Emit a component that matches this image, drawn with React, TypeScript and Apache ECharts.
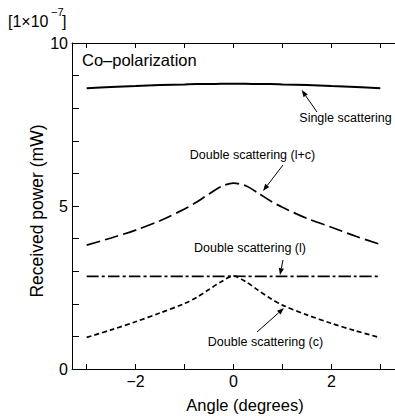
import React, { useEffect, useRef } from "react";
import * as echarts from "echarts";

const FONT = "'Liberation Sans', Arial, sans-serif";

const angles = [-3, -2.5, -2, -1.5, -1, -0.75, -0.5, -0.25, 0, 0.25, 0.5, 0.75, 1, 1.5, 2, 2.5, 3];
const singleScattering = [8.61, 8.65, 8.68, 8.71, 8.73, 8.74, 8.74, 8.75, 8.75, 8.75, 8.74, 8.74, 8.73, 8.71, 8.68, 8.65, 8.61];
const doubleLC = [3.8, 4.02, 4.26, 4.55, 4.91, 5.12, 5.37, 5.6, 5.7, 5.62, 5.4, 5.16, 4.96, 4.62, 4.35, 4.07, 3.82];
const doubleL = [2.84, 2.84, 2.84, 2.84, 2.84, 2.84, 2.84, 2.84, 2.85, 2.84, 2.84, 2.84, 2.84, 2.84, 2.84, 2.84, 2.84];
const doubleC = [0.97, 1.2, 1.45, 1.72, 2.01, 2.2, 2.44, 2.68, 2.85, 2.68, 2.42, 2.17, 1.96, 1.66, 1.4, 1.17, 0.96];

const xTicks = [-3, -2, -1, 0, 1, 2, 3];
const xLabels = [-2, 0, 2];
const yLabels = [0, 5, 10];

function pairs(ys: number[]) {
  return angles.map((a, i) => [a, ys[i]]);
}

function arrow(x1: number, y1: number, x2: number, y2: number) {
  const ang = Math.atan2(y2 - y1, x2 - x1);
  const L = 7, W = 2.6;
  const c = Math.cos(ang), s = Math.sin(ang);
  const bx = x2 - L * c, by = y2 - L * s;
  return [
    { type: "line", shape: { x1, y1, x2: bx, y2: by }, style: { stroke: "#000", lineWidth: 1 } },
    {
      type: "polygon",
      shape: { points: [[x2, y2], [bx - W * s, by + W * c], [bx + W * s, by - W * c]] },
      style: { fill: "#000" },
    },
  ];
}

function label(text: string, x: number, y: number, size = 12.5, align = "center", rotation = 0) {
  return {
    type: "text",
    x,
    y,
    rotation,
    style: { text, fill: "#000", font: `${size}px ${FONT}`, textAlign: align, textVerticalAlign: "middle" },
  };
}

export default function App() {
  const ref = useRef<HTMLDivElement>(null);
  useEffect(() => {
    const chart = echarts.init(ref.current!, null, { renderer: "svg" });
    const axisLine = { show: true, onZero: false, lineStyle: { color: "#000", width: 1 } };
    chart.setOption({
      animation: false,
      backgroundColor: "#fff",
      grid: { left: 72, top: 43, right: -5, bottom: 47 },
      xAxis: [
        {
          type: "value",
          min: -3.3,
          max: 3.3,
          position: "bottom",
          axisLine,
          axisTick: { inside: true, length: 5, customValues: xTicks, lineStyle: { color: "#000" } },
          axisLabel: { customValues: xLabels, color: "#000", fontSize: 16, fontFamily: FONT, margin: 4,
            formatter: (v: number) => (v < 0 ? "\u2212" + Math.abs(v) : String(v)) },
          splitLine: { show: false },
        },
        {
          type: "value",
          min: -3.3,
          max: 3.3,
          position: "top",
          axisLine,
          axisTick: { inside: true, length: 5, customValues: xTicks, lineStyle: { color: "#000" } },
          axisLabel: { show: false },
          splitLine: { show: false },
        },
      ],
      yAxis: {
        type: "value",
        min: 0,
        max: 10,
        interval: 1,
        axisLine,
        axisTick: { inside: true, length: 7, lineStyle: { color: "#000" } },
        axisLabel: { customValues: yLabels, color: "#000", fontSize: 16, fontFamily: FONT, margin: 4 },
        splitLine: { show: false },
      },
      series: [
        { type: "line", data: pairs(singleScattering), smooth: 0.3, showSymbol: false,
          lineStyle: { color: "#000", width: 2 } },
        { type: "line", data: pairs(doubleLC), smooth: 0.3, showSymbol: false,
          lineStyle: { color: "#000", width: 1.7, type: [14, 5] } },
        { type: "line", data: pairs(doubleL), smooth: 0.3, showSymbol: false,
          lineStyle: { color: "#000", width: 1.7, type: [12, 3, 3, 3] } },
        { type: "line", data: pairs(doubleC), smooth: 0.3, showSymbol: false,
          lineStyle: { color: "#000", width: 1.7, type: [5, 3] } },
      ],
      graphic: [
        label("[1\u00d710", 8, 21, 16, "left"),
        label("\u22127", 51, 12, 11, "left"),
        label("]", 62, 21, 16, "left"),
        label("Co\u2013polarization", 82, 60, 16.5, "left"),
        label("Angle (degrees)", 245, 405, 16.5),
        label("Received power (mW)", 37, 211, 17.5, "center", Math.PI / 2),
        label("Single scattering", 345.5, 118),
        label("Double scattering (l+c)", 252.5, 155),
        label("Double scattering (l)", 250, 248),
        label("Double scattering (c)", 265.5, 342),
        ...arrow(317, 112, 301.7, 90),
        ...arrow(283, 165, 263, 191),
        ...arrow(283, 260, 280, 275),
        ...arrow(257, 332, 284, 308),
      ],
    });
    return () => chart.dispose();
  }, []);
  return <div ref={ref} style={{ position: "absolute", left: 0, top: 0, width: 395, height: 416 }} />;
}
